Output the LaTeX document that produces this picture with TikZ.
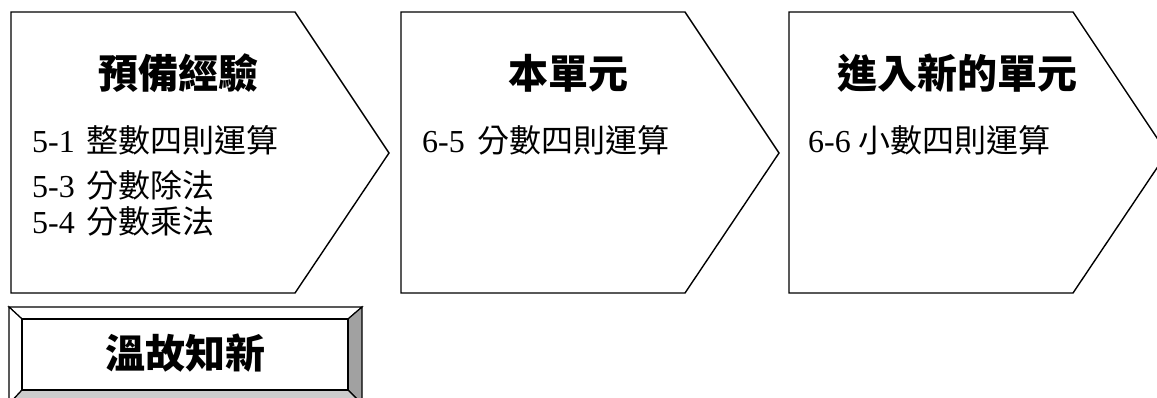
\documentclass[tikz,border=0pt]{standalone}
\usepackage{fontspec}
\setmainfont{Liberation Serif}
\newfontfamily\cjk{Noto Sans CJK TC}
\begin{document}
\begin{tikzpicture}[x=1pt,y=-1pt,
  arrowshape/.style={draw=black,line width=1.4pt,line join=miter,fill=white},
  title/.style={inner sep=0pt,anchor=center,font=\cjk\bfseries\fontsize{40}{44}\selectfont},
  item/.style={inner sep=0pt,anchor=west,font=\fontsize{32}{36}\selectfont},
  bevel/.style={draw=black,line width=1.2pt,line join=miter}]
\useasboundingbox (0,0) rectangle (1157,397);
\clip (0,0) rectangle (1157,397);
% chevron shapes
\draw[arrowshape] (11,12) -- (295,12) -- (389,153) -- (295,293) -- (11,293) -- cycle;
\draw[arrowshape] (401,12) -- (685,12) -- (779,153) -- (685,293) -- (401,293) -- cycle;
\draw[arrowshape] (789,12) -- (1073,12) -- (1167,153) -- (1073,293) -- (789,293) -- cycle;
% titles
\node[title] (t1) at (178,73) {預備經驗};
\node[title] (t2) at (568,73) {本單元};
\node[title] (t3) at (957,73) {進入新的單元};
% items
\node[item] (a1) at (32,140) {5-1\hspace{12pt}{\cjk 整數四則運算}};
\node[item] (a2) at (32,185) {5-3\hspace{12pt}{\cjk 分數除法}};
\node[item] (a3) at (32,221) {5-4\hspace{12pt}{\cjk 分數乘法}};
\node[item] (b1) at (422,140) {6-5\hspace{13pt}{\cjk 分數四則運算}};
\node[item] (c1) at (808,140) {6-6\hspace{8pt}{\cjk 小數四則運算}};
% bevel box
\fill[white] (9,307) rectangle (362,404);
\draw[bevel,fill=white] (9,307) -- (362,307) -- (348,319) -- (22,319) -- cycle;
\draw[bevel,fill=white] (9,307) -- (22,319) -- (22,390) -- (9,404) -- cycle;
\draw[bevel,fill=black!37] (362,307) -- (362,404) -- (348,390) -- (348,319) -- cycle;
\draw[bevel,fill=black!20] (22,390) -- (348,390) -- (362,404) -- (9,404) -- cycle;
\draw[bevel] (22,319) rectangle (348,390);
\node[inner sep=0pt,font=\cjk\bfseries\fontsize{40}{44}\selectfont] (wg) at (185,353) {溫故知新};
\end{tikzpicture}
\end{document}
